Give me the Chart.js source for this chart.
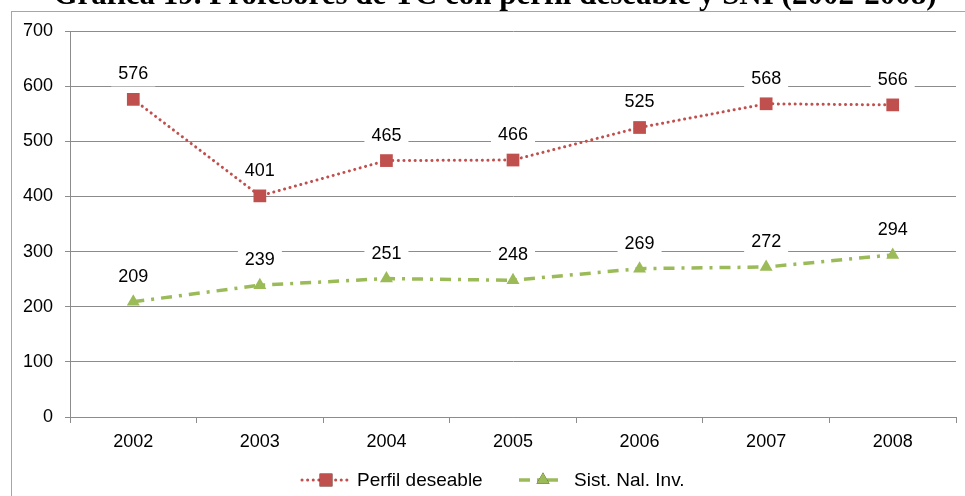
<!DOCTYPE html>
<html>
<head>
<meta charset="utf-8">
<script src="https://cdn.jsdelivr.net/npm/chart.js@4.4.1/dist/chart.umd.min.js"></script>
<style>
html, body { margin: 0; padding: 0; background: #fff; overflow: hidden; }
#wrap { position: relative; width: 965px; height: 496px; }
#frame { position: absolute; left: 11px; top: 11px; width: 1000px; height: 600px; border: 1px solid #a6a6a6; box-sizing: border-box; }
canvas { position: absolute; left: 0; top: 0; }
</style>
</head>
<body>
<div id="wrap">
  <div id="frame"></div>
  <canvas id="chart" width="965" height="496"></canvas>
</div>
<script>
// Chart data
const chartTitle = 'Gráfica 19. Profesores de TC con perfil deseable y SNI (2002-2008)';
const years = ['2002', '2003', '2004', '2005', '2006', '2007', '2008'];
const perfilDeseable = [576, 401, 465, 466, 525, 568, 566];
const sistNalInv = [209, 239, 251, 248, 269, 272, 294];
const seriesNames = ['Perfil deseable', 'Sist. Nal. Inv.'];

const RED = '#c0504d';
const GREEN = '#9bbb59';
const GRID = '#8c8c8c';
const FONT = "'Liberation Sans', Arial, sans-serif";

// White boxes + numbers above each point
const valueLabels = {
    id: 'valueLabels',
    beforeDatasetsDraw(chart) {
        const ctx = chart.ctx;
        ctx.save();
        ctx.fillStyle = '#fff';
        chart.data.datasets.forEach((ds, i) => {
            chart.getDatasetMeta(i).data.forEach(pt => {
                ctx.fillRect(pt.x - 22, pt.y - 38, 44, 25);
            });
        });
        ctx.restore();
    },
    afterDatasetsDraw(chart) {
        const ctx = chart.ctx;
        ctx.save();
        ctx.font = '18px ' + FONT;
        ctx.fillStyle = '#000';
        ctx.textAlign = 'center';
        ctx.textBaseline = 'middle';
        chart.data.datasets.forEach((ds, i) => {
            chart.getDatasetMeta(i).data.forEach((pt, j) => {
                ctx.fillText(ds.data[j], pt.x, pt.y - 25);
            });
        });
        ctx.restore();
    }
};

// Title (cut at the top edge) and line-style legend
const extras = {
    id: 'extras',
    afterDraw(chart) {
        const ctx = chart.ctx;
        ctx.save();
        ctx.font = 'bold 31px "Liberation Serif", "Times New Roman", serif';
        ctx.fillStyle = '#000';
        ctx.textAlign = 'center';
        ctx.textBaseline = 'alphabetic';
        ctx.fillText(chartTitle, 495, 4);

        const ly = 480;
        const entries = [
            { x: 302, ds: chart.data.datasets[0] },
            { x: 519, ds: chart.data.datasets[1] }
        ];
        entries.forEach(e => {
            const ds = e.ds;
            ctx.strokeStyle = ds.borderColor;
            ctx.lineWidth = ds.borderWidth;
            ctx.lineCap = ds.borderCapStyle || 'butt';
            ctx.setLineDash(ds.borderDash);
            ctx.beginPath();
            ctx.moveTo(e.x, ly);
            ctx.lineTo(e.x + 46, ly);
            ctx.stroke();
            ctx.setLineDash([]);
            Chart.helpers.drawPoint(ctx, {
                pointStyle: ds.pointStyle,
                radius: ds.pointRadius,
                rotation: 0,
                borderWidth: 0
            }, e.x + 24, ly);
            ctx.fillStyle = ds.pointBackgroundColor;
            ctx.fill();
            ctx.fillStyle = '#000';
            ctx.font = '19px ' + FONT;
            ctx.textAlign = 'left';
            ctx.textBaseline = 'middle';
            ctx.fillText(ds.label, e.x + 55, ly + 1);
        });
        ctx.restore();
    }
};

const ctx = document.getElementById('chart').getContext('2d');
const chart = new Chart(ctx, {
    type: 'line',
    data: {
        labels: years,
        datasets: [{
            label: seriesNames[0],
            data: perfilDeseable,
            borderColor: RED,
            borderWidth: 3,
            borderDash: [0.1, 5.5],
            borderCapStyle: 'round',
            pointStyle: 'rect',
            pointRadius: 9,
            pointBackgroundColor: RED,
            pointBorderWidth: 0,
            tension: 0
        }, {
            label: seriesNames[1],
            data: sistNalInv,
            borderColor: GREEN,
            borderWidth: 3.5,
            borderDash: [11, 7, 3, 7],
            pointStyle: 'triangle',
            pointRadius: 7.5,
            pointBackgroundColor: GREEN,
            pointBorderWidth: 0,
            tension: 0
        }]
    },
    options: {
        responsive: false,
        animation: false,
        layout: { padding: { top: 31, right: 8, bottom: 39, left: 0 } },
        plugins: {
            legend: { display: false },
            tooltip: { enabled: false }
        },
        scales: {
            x: {
                offset: true,
                grid: {
                    offset: true,
                    drawOnChartArea: false,
                    drawTicks: true,
                    tickLength: 6,
                    color: GRID
                },
                border: { display: true, color: GRID, width: 1 },
                ticks: { color: '#000', font: { family: FONT, size: 18 }, padding: 8 },
                afterFit(scale) { scale.height = 40; }
            },
            y: {
                min: 0,
                max: 700,
                grid: { color: GRID, tickLength: 5, lineWidth: 1 },
                border: { display: true, color: GRID, width: 1 },
                ticks: { stepSize: 100, color: '#000', font: { family: FONT, size: 18 }, padding: 12 },
                afterFit(scale) { scale.width = 70; }
            }
        }
    },
    plugins: [valueLabels, extras]
});
</script>
</body>
</html>
